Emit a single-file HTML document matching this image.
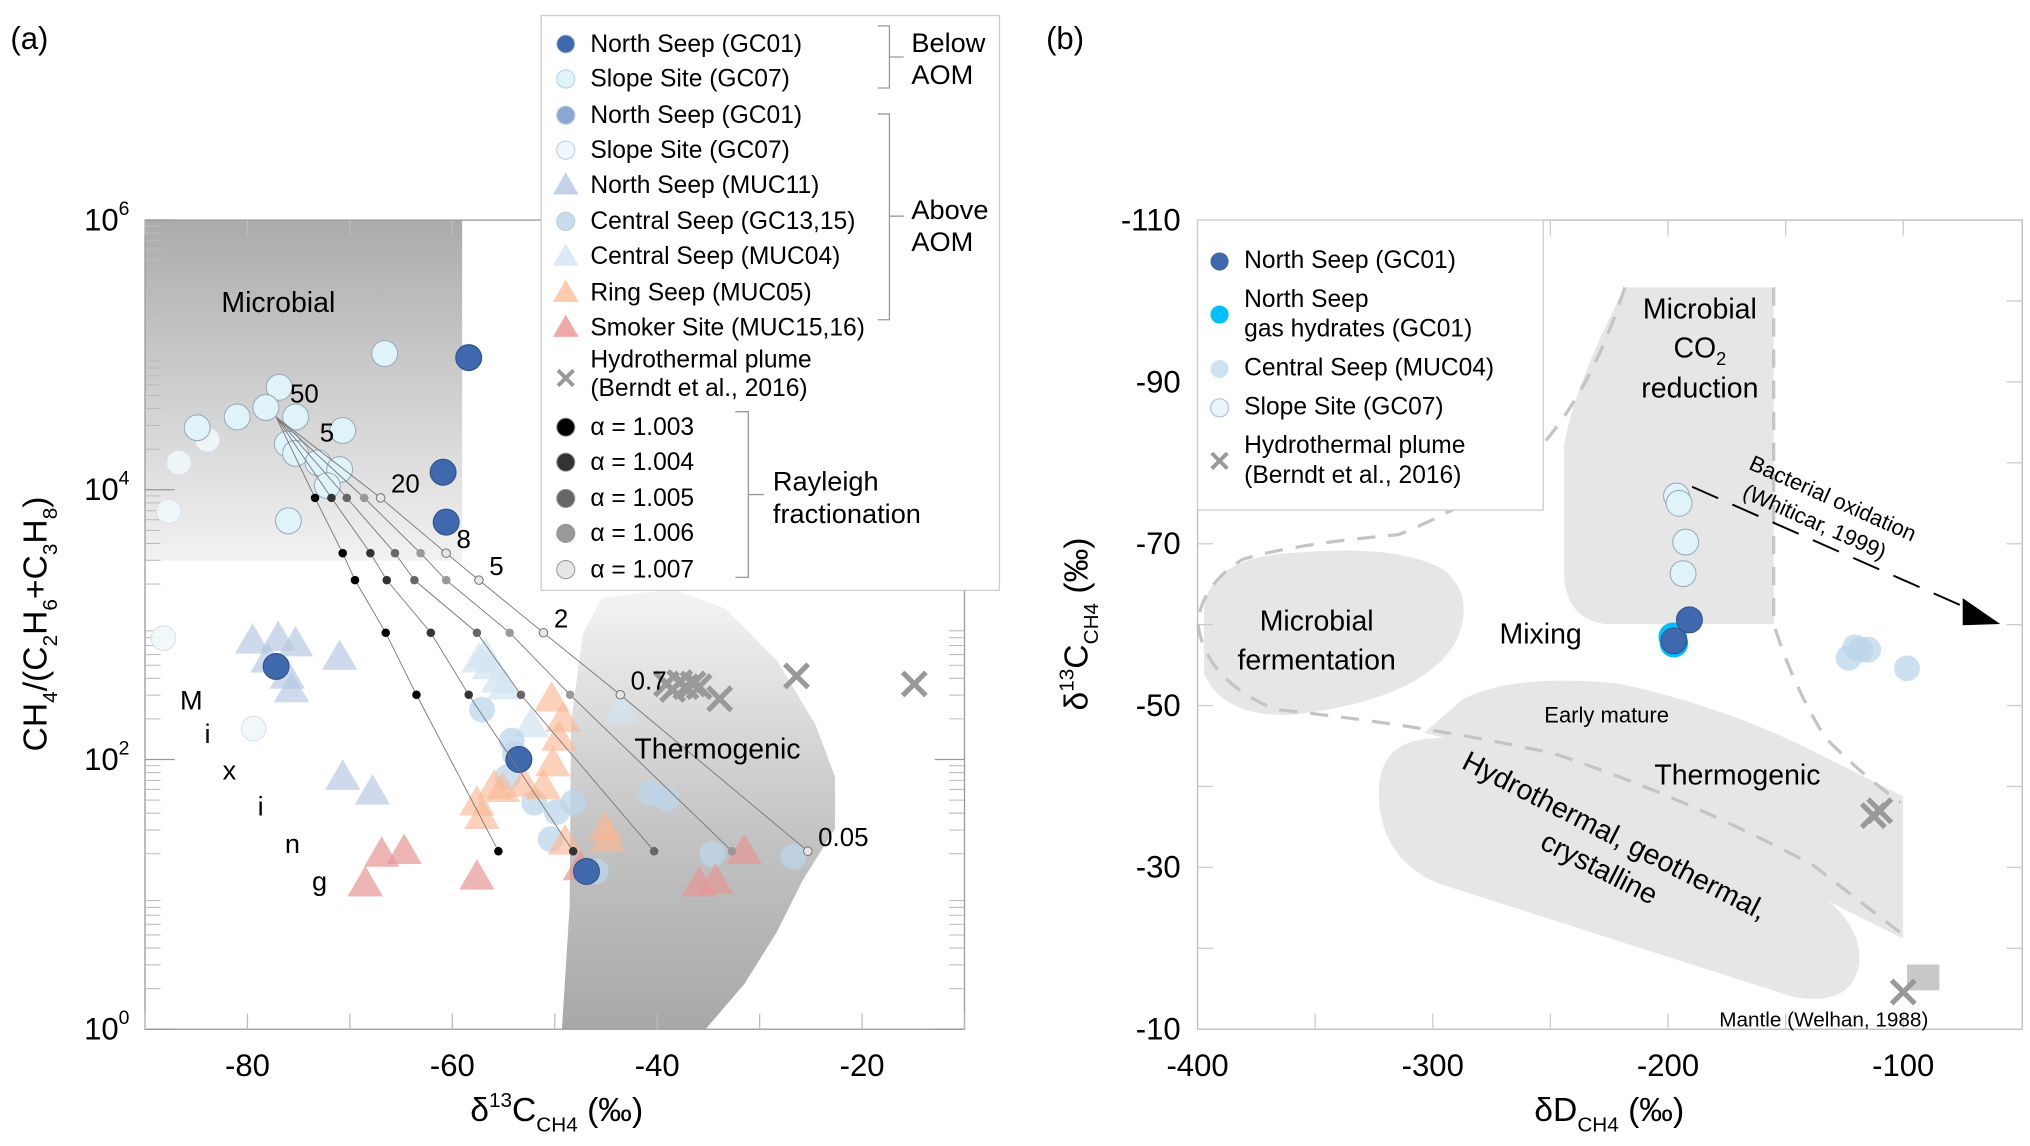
<!DOCTYPE html>
<html><head><meta charset="utf-8"><style>
html,body{margin:0;padding:0;background:#fff;}
svg{display:block;font-family:"Liberation Sans",sans-serif;}
</style></head><body>
<svg id="fig" width="2030" height="1146" viewBox="0 0 1568 885.2" preserveAspectRatio="none" xmlns="http://www.w3.org/2000/svg">
<defs>
<linearGradient id="gMic" x1="0" y1="0" x2="0" y2="1"><stop offset="0" stop-color="#ababab"/><stop offset="1" stop-color="#f2f2f2"/></linearGradient>
<linearGradient id="gTh" x1="0" y1="0" x2="0" y2="1"><stop offset="0" stop-color="#f4f4f4"/><stop offset="0.55" stop-color="#c4c4c4"/><stop offset="1" stop-color="#a8a8a8"/></linearGradient>
</defs>
<text x="8" y="38" font-size="24">(a)</text>
<text x="808" y="38" font-size="24">(b)</text>
<rect x="112" y="170" width="245" height="263" fill="url(#gMic)"/>
<path d="M434,795 L440,700 L441,560 L450,490 L465,462 L520,455 L560,470 L600,510 L630,560 L645,600 L645,640 L620,680 L600,720 L575,760 L545,795 Z" fill="url(#gTh)"/>
<g id="aAxes"></g>
<g id="aMarks"></g>
<text x="171" y="241" font-size="22">Microbial</text>
<text x="490" y="586" font-size="22">Thermogenic</text>
<g font-size="21">
<text x="139" y="548">M</text><text x="158" y="574">i</text><text x="172" y="602">x</text><text x="199" y="630">i</text><text x="220" y="659">n</text><text x="241" y="688">g</text></g>
<g id="legA">
<rect x="418" y="12" width="354" height="444" fill="#fff" stroke="#ccc" stroke-width="1"/>
</g>
<g>
<path d="M930,470 Q935,430 1000,427 Q1080,420 1115,440 Q1140,460 1125,495 Q1100,540 1000,552 Q945,555 930,520 Z" fill="#e6e6e6"/>
<path d="M1255,222 L1370,222 L1370,482 L1240,482 Q1208,478 1208,440 L1208,345 Q1215,300 1255,222 Z" fill="#e6e6e6"/>
<path d="M1130,540 Q1170,520 1250,528 Q1330,545 1400,580 L1470,615 L1470,725 L1400,690 L1300,640 L1200,592 L1100,566 Z" fill="#e6e6e6"/>
<path d="M1085,575 Q1120,560 1200,590 L1390,680 Q1440,710 1436,745 Q1430,778 1385,770 L1110,682 Q1065,662 1065,612 Q1065,585 1085,575 Z" fill="#e6e6e6"/>
<path d="M1255,222 Q1230,300 1190,345 Q1150,385 1080,413 Q1000,420 960,432 Q930,450 925,480 Q930,525 985,548 Q1100,560 1200,582 Q1300,615 1400,668 L1470,722" fill="none" stroke="#c4c4c4" stroke-width="2.5" stroke-dasharray="14,10"/>
<path d="M1370,222 L1370,482 Q1385,530 1410,570 Q1440,600 1468,620" fill="none" stroke="#c4c4c4" stroke-width="2.5" stroke-dasharray="14,10"/>
</g>
<g id="bAxes"></g>
<g>
<text x="1313" y="246" font-size="22" text-anchor="middle">Microbial</text>
<text x="1313" y="276" font-size="22" text-anchor="middle">CO<tspan font-size="14" dy="6">2</tspan></text>
<text x="1313" y="307" font-size="22" text-anchor="middle">reduction</text>
<text x="1017" y="487" font-size="22" text-anchor="middle">Microbial</text>
<text x="1017" y="517" font-size="22" text-anchor="middle">fermentation</text>
<text x="1190" y="497" font-size="22" text-anchor="middle">Mixing</text>
<text x="1241" y="558" font-size="17" text-anchor="middle">Early mature</text>
<text x="1342" y="606" font-size="22" text-anchor="middle">Thermogenic</text>
<text x="0" y="0" font-size="22" text-anchor="middle" transform="translate(1244,652) rotate(27)">Hydrothermal, geothermal,</text>
<text x="0" y="0" font-size="22" text-anchor="middle" transform="translate(1232,677) rotate(27)">crystalline</text>
<text x="1328" y="793" font-size="16">Mantle (Welhan, 1988)</text>
<text x="0" y="0" font-size="17" transform="translate(1350,362) rotate(24)">Bacterial oxidation</text>
<text x="0" y="0" font-size="17" transform="translate(1345,384) rotate(24)">(Whiticar, 1999)</text>
<line x1="1307" y1="376" x2="1520" y2="470" stroke="#000" stroke-width="1.5" stroke-dasharray="22,12"/>
<polygon points="1545,482 1516,462 1516,483" fill="#000"/>
<rect x="1473" y="745" width="25" height="20" fill="#c8c8c8"/>
</g>
<g id="bMarks"></g>
<g id="legB">
<rect x="925" y="170" width="267" height="224" fill="#fff" stroke="#ccc" stroke-width="1"/>
</g>
</svg>
<script>
var gc01BelowX=[-58.4,-60.9,-60.6,-77.2,-53.5,-46.9];
var gc01BelowY=[4.98,4.13,3.76,2.69,2.0,1.17];
var gc07BelowX=[-66.6,-76.9,-78.2,-81.0,-84.9,-75.3,-70.7,-76.1,-75.3,-73.1,-71.0,-72.2,-76.0];
var gc07BelowY=[5.01,4.76,4.61,4.54,4.46,4.54,4.44,4.34,4.27,4.20,4.15,4.03,3.77];
var gc07AboveX=[-83.9,-86.7,-87.7,-88.2,-79.4];
var gc07AboveY=[4.37,4.20,3.84,2.90,2.23];
var muc11X=[-79.5,-77.0,-75.3,-78.0,-76.1,-75.7,-71.0,-70.7,-67.8];
var muc11Y=[2.88,2.90,2.86,2.74,2.62,2.52,2.76,1.87,1.76];
var muc04X=[-57.4,-56.4,-55.5,-56.8,-54.9,-52.3,-43.5];
var muc04Y=[2.74,2.69,2.59,2.78,2.54,2.26,2.37];
var gc13X=[-57.1,-54.2,-53.9,-54.6,-52.0,-49.8,-48.2,-50.4,-46.0,-40.7,-39.1,-34.6,-26.7];
var gc13Y=[2.37,2.14,2.04,1.87,1.68,1.61,1.68,1.41,1.17,1.75,1.71,1.30,1.28];
var muc05X=[-50.3,-49.2,-49.6,-50.2,-51.1,-55.9,-55.1,-57.6,-57.1,-49.0,-45.1,-44.8,-53.0];
var muc05Y=[2.45,2.30,2.16,1.97,1.80,1.80,1.78,1.68,1.58,1.39,1.49,1.41,1.82];
var muc15X=[-66.9,-64.7,-68.5,-57.6,-47.5,-35.9,-34.3,-31.5];
var muc15Y=[1.30,1.32,1.08,1.13,1.20,1.08,1.10,1.32];
var plumeAX=[-39.1,-37.8,-36.5,-38.5,-37.2,-35.9,-33.9,-26.4,-14.9];
var plumeAY=[2.56,2.57,2.56,2.52,2.54,2.54,2.45,2.62,2.56];
var rayStartX=-77.2, rayStartY=4.54;
var rayAlphas=["1.003","1.004","1.005","1.006","1.007"];
var rayFracLabels=["20","8","5","2","0.7","0.05"];
var rayRowY=[3.94,3.53,3.33,2.94,2.48,1.32];
var ray1003=[-73.4,-70.7,-69.5,-66.5,-63.5,-55.5];
var ray1004=[-71.8,-68.0,-66.4,-62.1,-58.4,-48.2];
var ray1005=[-70.3,-65.6,-63.7,-57.6,-53.3,-40.3];
var ray1006=[-68.6,-63.1,-60.6,-54.4,-48.5,-32.7];
var ray1007=[-67.0,-60.6,-57.4,-51.1,-43.6,-25.3];
var aXTicks=[-80,-60,-40,-20];
var aYTicks=[0,2,4,6];
var bGc01X=[-190.9,-197.5];
var bGc01Y=[-60.6,-58.0];
var bHydX=[-197.5,-198.0];
var bHydY=[-57.7,-58.5];
var bMuc04X=[-123.2,-118.2,-114.9,-120.4,-98.4];
var bMuc04Y=[-55.9,-56.9,-56.9,-57.2,-54.6];
var bGc07X=[-196.4,-195.3,-192.5,-193.6];
var bGc07Y=[-75.9,-75.0,-70.2,-66.3];
var bPlumeX=[-112.7,-110.0,-100.0];
var bPlumeY=[-36.4,-37.0,-14.6];
var bXTicks=[-400,-300,-200,-100];
var bYTicks=[-110,-90,-70,-50,-30,-10];

var NS="http://www.w3.org/2000/svg";
function xa(v){return 112+(v+90)*7.9125;}
function ya(l){return 795-l*104.17;}
function xb(v){return 925+(v+400)*1.817;}
function yb(v){return 170+(v+110)*6.25;}
function mk(tag,attrs,parent){var e=document.createElementNS(NS,tag);for(var k in attrs)e.setAttribute(k,attrs[k]);parent.appendChild(e);return e;}
var aAx=document.getElementById('aAxes'),aM=document.getElementById('aMarks'),bAx=document.getElementById('bAxes'),bM=document.getElementById('bMarks'),legA=document.getElementById('legA'),legB=document.getElementById('legB');

function circ(cx,cy,r,fill,stroke,op,par,name){var e=mk('circle',{cx:cx,cy:cy,r:r,fill:fill,stroke:stroke||'none','stroke-width':0.8,'fill-opacity':op},par);

return e;}
function tri(cx,cy,s,fill,op,par,name){var e=mk('polygon',{points:(cx)+','+(cy-s*0.62)+' '+(cx-s*0.62)+','+(cy+s*0.45)+' '+(cx+s*0.62)+','+(cy+s*0.45),fill:fill,'fill-opacity':op},par);

return e;}
function cross(cx,cy,s,col,w,par,name){var g=mk('g',{},par);


mk('line',{x1:cx-s,y1:cy-s,x2:cx+s,y2:cy+s,stroke:col,'stroke-width':w},g);mk('line',{x1:cx-s,y1:cy+s,x2:cx+s,y2:cy-s,stroke:col,'stroke-width':w},g);return g;}
function txt(x,y,s,size,par,anchor,name){var e=mk('text',{x:x,y:y,'font-size':size,'text-anchor':anchor||'start'},par);e.textContent=s;

return e;}

mk('rect',{x:112,y:170,width:633,height:625,fill:'none',stroke:'#999','stroke-width':1},aAx);
for(var d=0;d<6;d++){for(var m=2;m<=9;m++){var yy=ya(d+Math.log10(m));mk('line',{x1:112,y1:yy,x2:124,y2:yy,stroke:'#bbb','stroke-width':0.8},aAx);mk('line',{x1:733,y1:yy,x2:745,y2:yy,stroke:'#bbb','stroke-width':0.8},aAx);}}
aYTicks.forEach(function(t){var yy=ya(t);mk('line',{x1:112,y1:yy,x2:135,y2:yy,stroke:'#999'},aAx);mk('line',{x1:722,y1:yy,x2:745,y2:yy,stroke:'#999'},aAx);
var e=mk('text',{x:100,y:yy+8,'font-size':24,'text-anchor':'end'},aAx);e.innerHTML='10<tspan font-size="15" dy="-12">'+t+'</tspan>';

});
for(var xv=-90;xv<=-10;xv+=10){var xx=xa(xv);mk('line',{x1:xx,y1:795,x2:xx,y2:783,stroke:'#bbb'},aAx);mk('line',{x1:xx,y1:170,x2:xx,y2:182,stroke:'#bbb'},aAx);}
aXTicks.forEach(function(t){txt(xa(t),831,String(t),24,aAx,'middle','x-tick-label');});
var axl=mk('text',{x:430,y:866,'font-size':26,'text-anchor':'middle'},aAx);axl.innerHTML='δ<tspan font-size="16" dy="-11">13</tspan><tspan dy="11">C</tspan><tspan font-size="16" dy="8">CH4</tspan><tspan dy="-8"> (‰)</tspan>';


var ayl=mk('text',{x:0,y:0,'font-size':26,'text-anchor':'middle',transform:'translate(36,482) rotate(-90)'},aAx);ayl.innerHTML='CH<tspan font-size="16" dy="8">4</tspan><tspan dy="-8">/(C</tspan><tspan font-size="16" dy="8">2</tspan><tspan dy="-8">H</tspan><tspan font-size="16" dy="8">6</tspan><tspan dy="-8">+C</tspan><tspan font-size="16" dy="8">3</tspan><tspan dy="-8">H</tspan><tspan font-size="16" dy="8">8</tspan><tspan dy="-8">)</tspan>';



gc07AboveX.forEach(function(v,i){circ(xa(v),ya(gc07AboveY[i]),9.5,'#eef7fa','#dde',0.9,aM,'slope-above-point');});
muc11X.forEach(function(v,i){tri(xa(v),ya(muc11Y[i]),22,'#b4c6e0',0.65,aM,'north-muc11-point');});
muc04X.forEach(function(v,i){tri(xa(v),ya(muc04Y[i]),22,'#d2e4f2',0.7,aM,'central-muc04-point');});
gc13X.forEach(function(v,i){circ(xa(v),ya(gc13Y[i]),10,'#bcd6ea','none',0.75,aM,'central-gc13-point');});
muc05X.forEach(function(v,i){tri(xa(v),ya(muc05Y[i]),22,'#f9b995',0.65,aM,'ring-muc05-point');});
muc15X.forEach(function(v,i){tri(xa(v),ya(muc15Y[i]),22,'#e79595',0.7,aM,'smoker-muc15-point');});
plumeAX.forEach(function(v,i){cross(xa(v),ya(plumeAY[i]),9,'#999',4,aM,'plume-point');});
gc07BelowX.forEach(function(v,i){circ(xa(v),ya(gc07BelowY[i]),10,'#dff3f9','#9ab',1,aM,'slope-below-point');});
gc01BelowX.forEach(function(v,i){circ(xa(v),ya(gc01BelowY[i]),10,'#3f68ad','#2f4f8a',1,aM,'north-gc01-below-point');});
var rays=[ray1003,ray1004,ray1005,ray1006,ray1007],rayCols=['#000','#333','#666','#999','#e6e6e6'];
rays.forEach(function(arr,k){var pts=xa(rayStartX)+','+ya(rayStartY);arr.forEach(function(v,i){pts+=' '+xa(v)+','+ya(rayRowY[i]);});
var pl=mk('polyline',{points:pts,fill:'none',stroke:'#777','stroke-width':0.7},aM);

});
rays.forEach(function(arr,k){arr.forEach(function(v,i){circ(xa(v),ya(rayRowY[i]),3.3,rayCols[k],k==4?'#777':'none',1,aM,'rayleigh-point');});});
rayFracLabels.forEach(function(s,i){txt(xa(ray1007[i])+8,ya(rayRowY[i])-4,s,20,aM,'start','fraction-label');});
txt(224,311,'50',20,aM,'start','fraction-label');
txt(247,341,'5',20,aM,'start','fraction-label');

var la=[['c','#3f68ad','North Seep (GC01)',32],['c','#dff3f9','Slope Site (GC07)',59],['c','#8aa8d4','North Seep (GC01)',87],['c','#eef7fa','Slope Site (GC07)',114],['t','#c4d2e8','North Seep (MUC11)',141],['c','#c7ddee','Central Seep (GC13,15)',169],['t','#dde9f4','Central Seep (MUC04)',196],['t','#fbcbad','Ring Seep (MUC05)',224],['t','#eda9a9','Smoker Site (MUC15,16)',251]];
la.forEach(function(r){if(r[0]=='c')circ(437,r[3]+2,7,r[1],'#bcd',1,legA,'legend-marker');else tri(437,r[3]+2,16,r[1],1,legA,'legend-marker');txt(456,r[3]+8,r[2],19,legA,'start','legend-entry');});
cross(437,292,6,'#999',3,legA,'legend-marker');
txt(456,284,'Hydrothermal plume',19,legA,'start','legend-entry');txt(456,306,'(Berndt et al., 2016)',19,legA,'start','legend-entry');
[328,355,383,410,438].forEach(function(y,k){circ(437,y+2,7,rayCols[k],'#999',1,legA,'legend-marker');txt(456,y+8,'α = '+rayAlphas[k],19,legA,'start','legend-entry');});
mk('path',{d:'M678,20 L687,20 L687,68 L678,68 M687,44 L698,44',fill:'none',stroke:'#999','stroke-width':1},legA);
mk('path',{d:'M678,88 L687,88 L687,247 L678,247 M687,167 L698,167',fill:'none',stroke:'#999','stroke-width':1},legA);
mk('path',{d:'M568,318 L578,318 L578,446 L568,446 M578,382 L590,382',fill:'none',stroke:'#999','stroke-width':1},legA);
txt(704,40,'Below',21,legA,'start','legend-group-label');txt(704,65,'AOM',21,legA,'start','legend-group-label');
txt(704,169,'Above',21,legA,'start','legend-group-label');txt(704,194,'AOM',21,legA,'start','legend-group-label');
txt(597,379,'Rayleigh',21,legA,'start','legend-group-label');txt(597,404,'fractionation',21,legA,'start','legend-group-label');

mk('rect',{x:925,y:170,width:637,height:625,fill:'none',stroke:'#bbb','stroke-width':1},bAx);
for(var xv2=-350;xv2<=-100;xv2+=50){var x2=xb(xv2);mk('line',{x1:x2,y1:795,x2:x2,y2:783,stroke:'#ccc'},bAx);mk('line',{x1:x2,y1:170,x2:x2,y2:182,stroke:'#ccc'},bAx);}
for(var yv=-100;yv<=-20;yv+=10){var y2=yb(yv);mk('line',{x1:925,y1:y2,x2:937,y2:y2,stroke:'#ccc'},bAx);mk('line',{x1:1550,y1:y2,x2:1562,y2:y2,stroke:'#ccc'},bAx);}
bXTicks.forEach(function(t){txt(xb(t),831,String(t),24,bAx,'middle','x-tick-label-b');});
bYTicks.forEach(function(t){txt(912,yb(t)+8,String(t),24,bAx,'end','y-tick-label-b');});
var bxl=mk('text',{x:1243,y:866,'font-size':26,'text-anchor':'middle'},bAx);bxl.innerHTML='δD<tspan font-size="16" dy="8">CH4</tspan><tspan dy="-8"> (‰)</tspan>';


var byl=mk('text',{x:0,y:0,'font-size':26,'text-anchor':'middle',transform:'translate(840,482) rotate(-90)'},bAx);byl.innerHTML='δ<tspan font-size="16" dy="-11">13</tspan><tspan dy="11">C</tspan><tspan font-size="16" dy="8">CH4</tspan><tspan dy="-8"> (‰)</tspan>';



bMuc04X.forEach(function(v,i){circ(xb(v),yb(bMuc04Y[i]),10,'#bcd6ea','none',0.75,bM,'central-muc04-point-b');});
bGc07X.forEach(function(v,i){circ(xb(v),yb(bGc07Y[i]),10,'#dff3f9','#9ab',1,bM,'slope-gc07-point-b');});
bHydX.forEach(function(v,i){circ(xb(v),yb(bHydY[i]),11,'#00bfff','none',1,bM,'gas-hydrate-point');});
bGc01X.forEach(function(v,i){circ(xb(v),yb(bGc01Y[i]),10,'#3f68ad','#2f4f8a',1,bM,'north-gc01-point-b');});
bPlumeX.forEach(function(v,i){cross(xb(v),yb(bPlumeY[i]),9,'#999',4,bM,'plume-point-b');});

circ(942,202,7,'#3f68ad','none',1,legB,'legend-marker');txt(961,207,'North Seep (GC01)',19,legB,'start','legend-entry');
circ(942,243,7,'#00bfff','none',1,legB,'legend-marker');txt(961,237,'North Seep',19,legB,'start','legend-entry');txt(961,260,'gas hydrates (GC01)',19,legB,'start','legend-entry');
circ(942,285,7,'#cfe2f0','none',1,legB,'legend-marker');txt(961,290,'Central Seep (MUC04)',19,legB,'start','legend-entry');
circ(942,315,7,'#e8f5f9','#abc',1,legB,'legend-marker');txt(961,320,'Slope Site (GC07)',19,legB,'start','legend-entry');
cross(942,356,6,'#999',3,legB,'legend-marker');txt(961,350,'Hydrothermal plume',19,legB,'start','legend-entry');txt(961,373,'(Berndt et al., 2016)',19,legB,'start','legend-entry');
</script>
</body></html>
